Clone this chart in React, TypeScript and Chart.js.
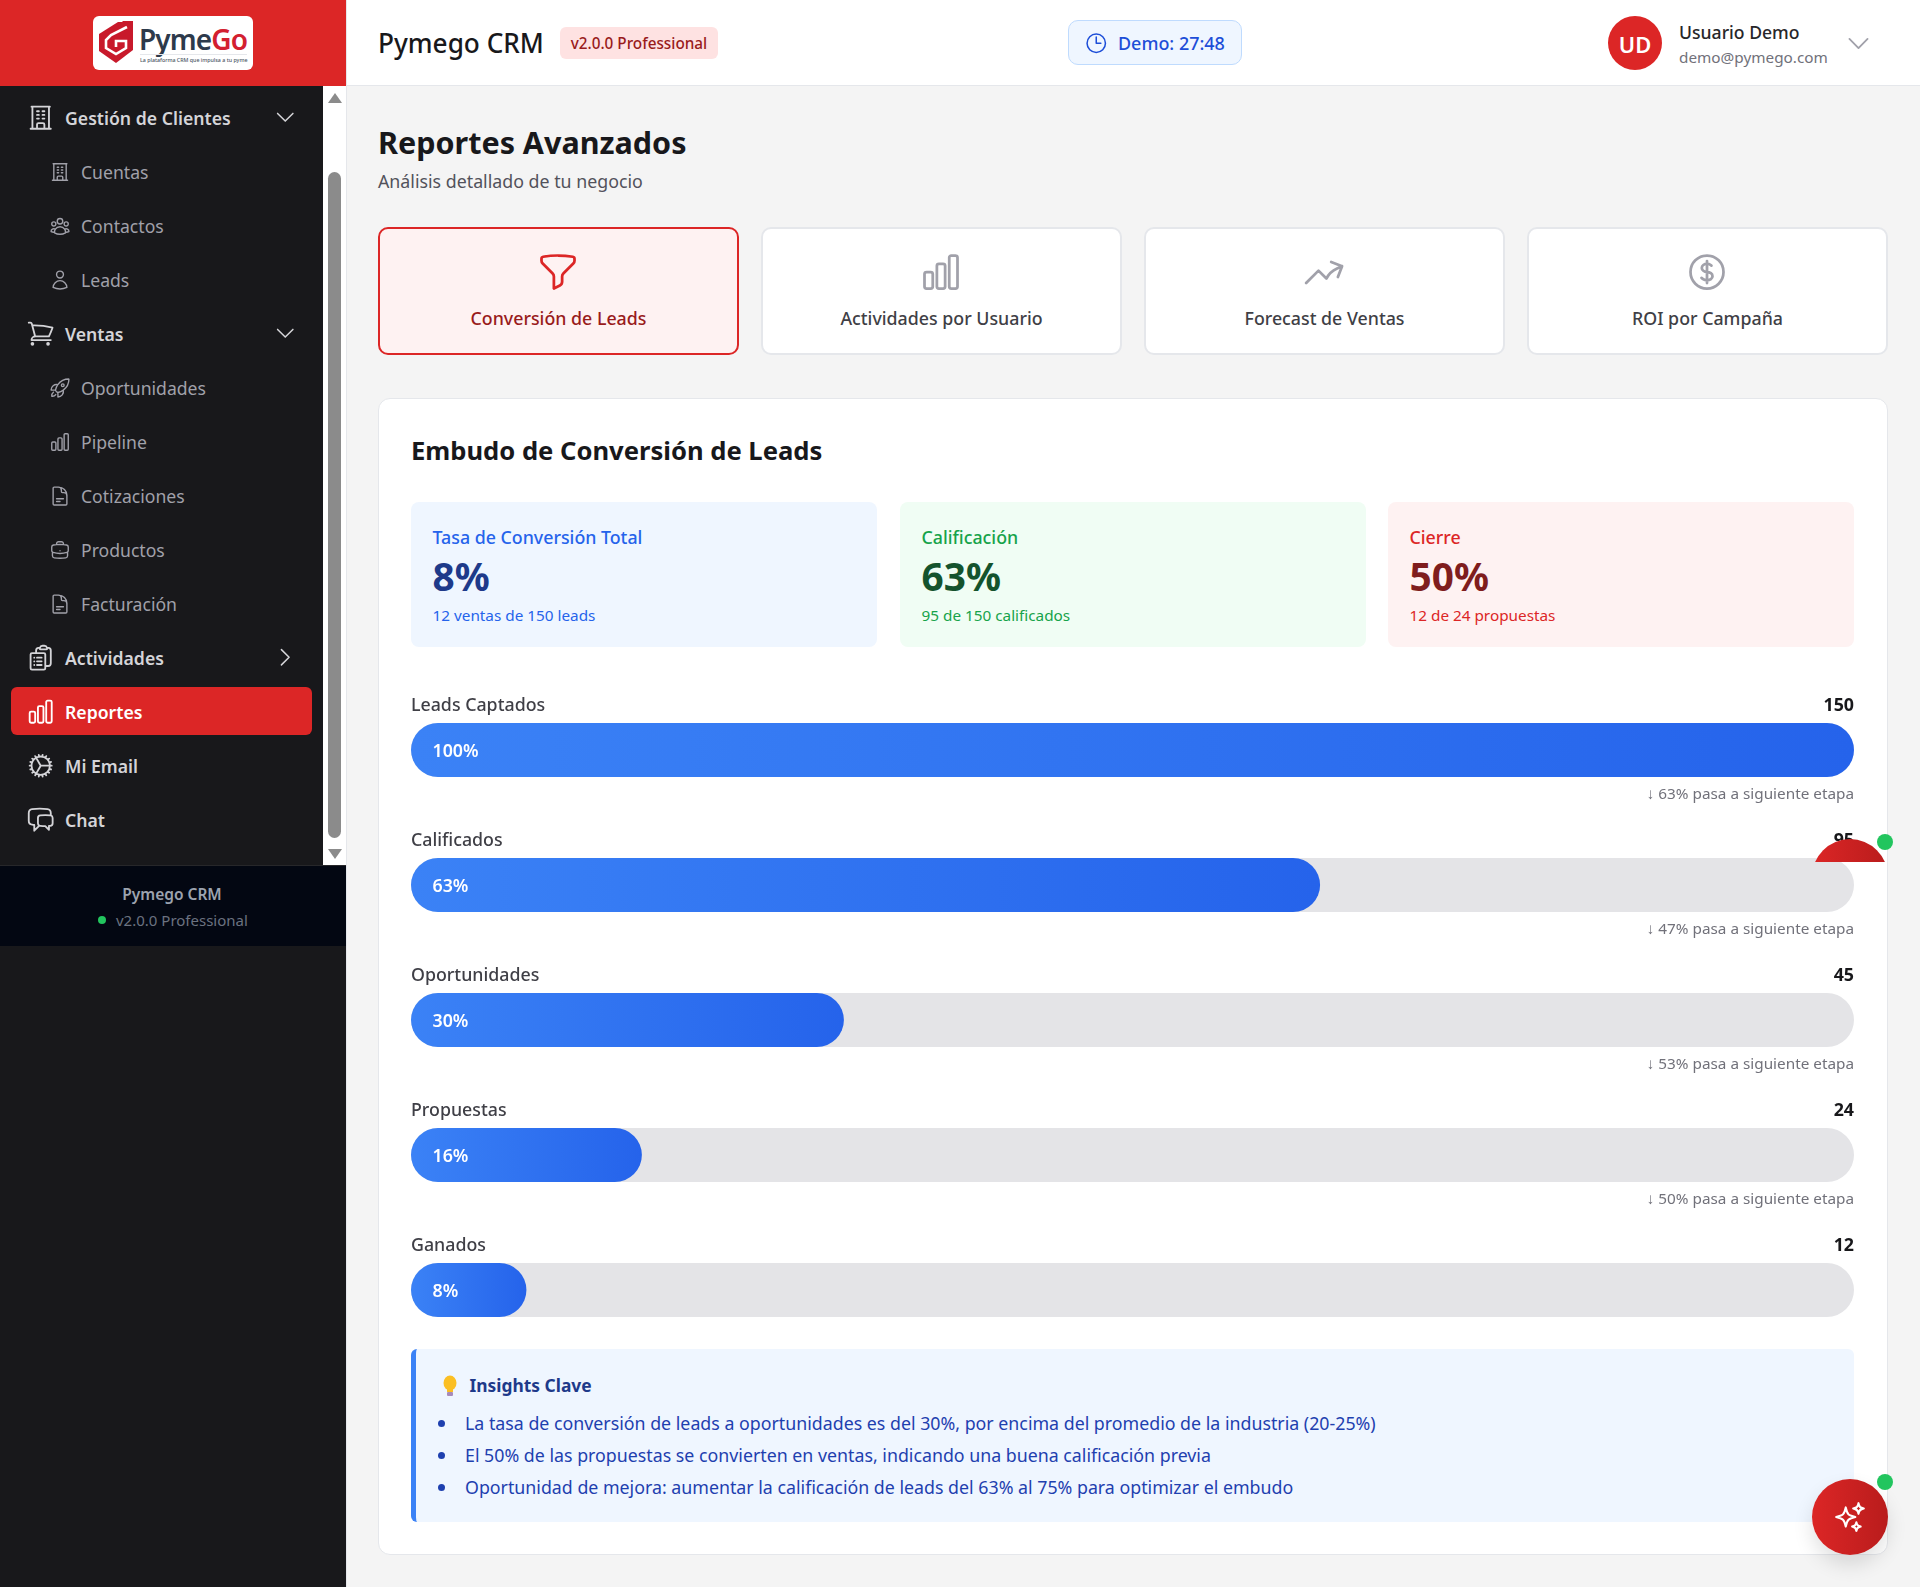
import React, { useEffect, useRef } from "react";
import { Chart, registerables } from "chart.js";

Chart.register(...registerables);

const stages = ["Leads Captados", "Calificados", "Oportunidades", "Propuestas", "Ganados"];
const counts = [150, 95, 45, 24, 12];
const percents = [100, 63, 30, 16, 8];
const trackValues = [100, 100, 100, 100, 100];
const passRates = [63, 47, 53, 50];

const statTitles = ["Tasa de Conversión Total", "Calificación", "Cierre"];
const statValues = ["8%", "63%", "50%"];
const statNotes = ["12 ventas de 150 leads", "95 de 150 calificados", "12 de 24 propuestas"];
const tabs = ["Conversión de Leads", "Actividades por Usuario", "Forecast de Ventas", "ROI por Campaña"];
const insights = [
  "La tasa de conversión de leads a oportunidades es del 30%, por encima del promedio de la industria (20-25%)",
  "El 50% de las propuestas se convierten en ventas, indicando una buena calificación previa",
  "Oportunidad de mejora: aumentar la calificación de leads del 63% al 75% para optimizar el embudo",
];

const P = {
  building: "M3.75 21h16.5M4.5 3h15M5.25 3v18m13.5-18v18M9 6.75h1.5m-1.5 3h1.5m-1.5 3h1.5m3-6H15m-1.5 3H15m-1.5 3H15M9 21v-3.375c0-.621.504-1.125 1.125-1.125h3.75c.621 0 1.125.504 1.125 1.125V21",
  group: "M18 18.72a9.094 9.094 0 003.741-.479 3 3 0 00-4.682-2.72m.94 3.198l.001.031c0 .225-.012.447-.037.666A11.944 11.944 0 0112 21c-2.17 0-4.207-.576-5.963-1.584A6.062 6.062 0 016 18.719m12 0a5.971 5.971 0 00-.941-3.197m0 0A5.995 5.995 0 0012 12.75a5.995 5.995 0 00-5.058 2.772m0 0a3 3 0 00-4.681 2.72 8.986 8.986 0 003.74.477m.94-3.197a5.971 5.971 0 00-.94 3.197M15 6.75a3 3 0 11-6 0 3 3 0 016 0zm6 3a2.25 2.25 0 11-4.5 0 2.25 2.25 0 014.5 0zm-13.5 0a2.25 2.25 0 11-4.5 0 2.25 2.25 0 014.5 0z",
  user: "M15.75 6a3.75 3.75 0 11-7.5 0 3.75 3.75 0 017.5 0zM4.501 20.118a7.5 7.5 0 0114.998 0A17.933 17.933 0 0112 21.75c-2.676 0-5.216-.584-7.499-1.632z",
  cart: "M2.25 3h1.386c.51 0 .955.343 1.087.835l.383 1.437M7.5 14.25a3 3 0 00-3 3h15.75m-12.75-3h11.218c1.121-2.3 2.1-4.684 2.924-7.138a60.114 60.114 0 00-16.536-1.84M7.5 14.25L5.106 5.272M6 20.25a.75.75 0 11-1.5 0 .75.75 0 011.5 0zm12.75 0a.75.75 0 11-1.5 0 .75.75 0 011.5 0z",
  rocket: "M15.59 14.37a6 6 0 01-5.84 7.38v-4.8m5.84-2.58a14.98 14.98 0 006.16-12.12A14.98 14.98 0 009.631 8.41m5.96 5.96a14.926 14.926 0 01-5.841 2.58m-.119-8.54a6 6 0 00-7.381 5.84h4.8m2.581-5.84a14.927 14.927 0 00-2.58 5.84m2.699 2.7c-.103.021-.207.041-.311.06a15.09 15.09 0 01-2.448-2.448 14.9 14.9 0 01.06-.312m-2.24 2.39a4.493 4.493 0 00-1.757 4.306 4.493 4.493 0 004.306-1.758M16.5 9a1.5 1.5 0 11-3 0 1.5 1.5 0 013 0z",
  bars: "M3 13.125C3 12.504 3.504 12 4.125 12h2.25c.621 0 1.125.504 1.125 1.125v6.75C7.5 20.496 6.996 21 6.375 21h-2.25A1.125 1.125 0 013 19.875v-6.75zM9.75 8.625c0-.621.504-1.125 1.125-1.125h2.25c.621 0 1.125.504 1.125 1.125v11.25c0 .621-.504 1.125-1.125 1.125h-2.25a1.125 1.125 0 01-1.125-1.125V8.625zM16.5 4.125c0-.621.504-1.125 1.125-1.125h2.25C20.496 3 21 3.504 21 4.125v15.75c0 .621-.504 1.125-1.125 1.125h-2.25a1.125 1.125 0 01-1.125-1.125V4.125z",
  doc: "M19.5 14.25v-2.625a3.375 3.375 0 00-3.375-3.375h-1.5A1.125 1.125 0 0113.5 7.125v-1.5a3.375 3.375 0 00-3.375-3.375H8.25m0 12.75h7.5m-7.5 3H12M10.5 2.25H5.625c-.621 0-1.125.504-1.125 1.125v17.25c0 .621.504 1.125 1.125 1.125h12.75c.621 0 1.125-.504 1.125-1.125V11.25a9 9 0 00-9-9z",
  case: "M20.25 14.15v4.25c0 1.094-.787 2.036-1.872 2.18-2.087.277-4.216.42-6.378.42s-4.291-.143-6.378-.42c-1.085-.144-1.872-1.086-1.872-2.18v-4.25m16.5 0a2.18 2.18 0 00.75-1.661V8.706c0-1.081-.768-2.015-1.837-2.175a48.114 48.114 0 00-3.413-.387m4.5 8.006c-.194.165-.42.295-.673.38A23.978 23.978 0 0112 15.75c-2.648 0-5.195-.429-7.577-1.22a2.016 2.016 0 01-.673-.38m0 0A2.18 2.18 0 013 12.489V8.706c0-1.081.768-2.015 1.837-2.175a48.111 48.111 0 013.413-.387m7.5 0V5.25A2.25 2.25 0 0013.5 3h-3a2.25 2.25 0 00-2.25 2.25v.894m7.5 0a48.667 48.667 0 00-7.5 0M12 12.75h.008v.008H12v-.008z",
  clip: "M9 12h3.75M9 15h3.75M9 18h3.75m3 .75H18a2.25 2.25 0 002.25-2.25V6.108c0-1.135-.845-2.098-1.976-2.192a48.424 48.424 0 00-1.123-.08m-5.801 0c-.065.21-.1.433-.1.664 0 .414.336.75.75.75h4.5a.75.75 0 00.75-.75 2.25 2.25 0 00-.1-.664m-5.8 0A2.251 2.251 0 0113.5 2.25H15c1.012 0 1.867.668 2.15 1.586m-5.8 0c-.376.023-.75.05-1.124.08C9.095 4.01 8.25 4.973 8.25 6.108V8.25m0 0H4.875c-.621 0-1.125.504-1.125 1.125v11.25c0 .621.504 1.125 1.125 1.125h9.75c.621 0 1.125-.504 1.125-1.125V9.375c0-.621-.504-1.125-1.125-1.125H8.25zM6.75 12h.008v.008H6.75V12zm0 3h.008v.008H6.75V15zm0 3h.008v.008H6.75V18z",
  cog: "M4.5 12a7.5 7.5 0 0015 0m-15 0a7.5 7.5 0 1115 0m-15 0H3m16.5 0H21m-1.5 0H12m-8.457 3.077l1.41-.513m14.095-5.13l1.41-.513M5.106 17.785l1.15-.964m11.49-9.642l1.149-.964M7.501 19.795l.75-1.3m7.5-12.99l.75-1.3m-6.063 16.658l.26-1.477m2.605-14.772l.26-1.477m0 17.726l-.26-1.477M10.698 4.614l-.26-1.477M16.5 19.794l-.75-1.299M7.5 4.205L12 12m6.894 5.785l-1.149-.964M6.256 7.178l-1.15-.964m15.352 8.864l-1.41-.513M4.954 9.435l-1.41-.514M12.002 12l-3.75 6.495",
  chat: "M20.25 8.511c.884.284 1.5 1.128 1.5 2.097v4.286c0 1.136-.847 2.1-1.98 2.193-.34.027-.68.052-1.02.072v3.091l-3-3c-1.354 0-2.694-.055-4.02-.163a2.115 2.115 0 01-.825-.242m9.345-8.334a2.126 2.126 0 00-.476-.095 48.64 48.64 0 00-8.048 0c-1.131.094-1.976 1.057-1.976 2.192v4.286c0 .837.46 1.58 1.155 1.951m9.345-8.334V6.637c0-1.621-1.152-3.026-2.76-3.235A48.455 48.455 0 0011.25 3c-2.115 0-4.198.137-6.24.402-1.608.209-2.76 1.614-2.76 3.235v6.226c0 1.621 1.152 3.026 2.76 3.235.577.075 1.157.14 1.74.194V21l4.155-4.155",
  down: "M19.5 8.25l-7.5 7.5-7.5-7.5",
  right: "M8.25 4.5l7.5 7.5-7.5 7.5",
  funnel: "M12 3c2.755 0 5.455.232 8.083.678.533.09.917.556.917 1.096v1.044a2.25 2.25 0 01-.659 1.591l-5.432 5.432a2.25 2.25 0 00-.659 1.591v2.927a2.25 2.25 0 01-1.244 2.013L9.75 21v-6.568a2.25 2.25 0 00-.659-1.591L3.659 7.409A2.25 2.25 0 013 5.818V4.774c0-.54.384-1.006.917-1.096A48.32 48.32 0 0112 3z",
  trend: "M2.25 18L9 11.25l4.306 4.307a11.95 11.95 0 015.814-5.519l2.74-1.22m0 0l-5.94-2.28m5.94 2.28l-2.28 5.941",
  dollar: "M12 6v12m-3-2.818l.879.659c1.171.879 3.07.879 4.242 0 1.172-.879 1.172-2.303 0-3.182C13.536 12.219 12.768 12 12 12c-.725 0-1.45-.22-2.003-.659-1.106-.879-1.106-2.303 0-3.182s2.9-.879 4.006 0l.415.33M21 12a9 9 0 11-18 0 9 9 0 0118 0z",
  clock: "M12 6v6h4.5m4.5 0a9 9 0 11-18 0 9 9 0 0118 0z",
  spark: "M9.813 15.904L9 18.75l-.813-2.846a4.5 4.5 0 00-3.09-3.09L2.25 12l2.846-.813a4.5 4.5 0 003.09-3.09L9 5.25l.813 2.846a4.5 4.5 0 003.09 3.09L15.75 12l-2.846.813a4.5 4.5 0 00-3.09 3.09zM18.259 8.715L18 9.75l-.259-1.035a3.375 3.375 0 00-2.455-2.456L14.25 6l1.036-.259a3.375 3.375 0 002.455-2.456L18 2.25l.259 1.035a3.375 3.375 0 002.456 2.456L21.75 6l-1.035.259a3.375 3.375 0 00-2.456 2.456zM16.894 20.567L16.5 21.75l-.394-1.183a2.25 2.25 0 00-1.423-1.423L13.5 18.75l1.183-.394a2.25 2.25 0 001.423-1.423l.394-1.183.394 1.183a2.25 2.25 0 001.423 1.423l1.183.394-1.183.394a2.25 2.25 0 00-1.423 1.423z",
};

const FONT = '"Noto Sans", sans-serif';
const BODY = 17.8;
const SMALL = 15.3;

function Box({ x, y, w, h, style, children }: any) {
  return <div style={{ position: "absolute", left: x, top: y, width: w, height: h, boxSizing: "border-box", ...style }}>{children}</div>;
}

function T({ x, y, s, w = 400, c, a = "l", children }: any) {
  const tx = a === "c" ? "-50%" : a === "r" ? "-100%" : "0";
  return (
    <div style={{ position: "absolute", left: x, top: y + 0.7, transform: `translate(${tx},-50%)`, fontFamily: FONT, fontSize: s, fontWeight: w, color: c, lineHeight: 1.2, whiteSpace: "nowrap" }}>
      {children}
    </div>
  );
}

function Icon({ d, cx, cy, size, color, sw = 1.5 }: any) {
  return (
    <svg viewBox="0 0 24 24" width={size} height={size} fill="none" stroke={color} strokeWidth={sw} strokeLinecap="round" strokeLinejoin="round"
      style={{ position: "absolute", left: cx - size / 2, top: cy - size / 2 }}>
      <path d={d} />
    </svg>
  );
}

const navItems: any[] = [
  { t: "Gestión de Clientes", i: P.building, top: true, chev: P.down },
  { t: "Cuentas", i: P.building },
  { t: "Contactos", i: P.group },
  { t: "Leads", i: P.user },
  { t: "Ventas", i: P.cart, top: true, chev: P.down },
  { t: "Oportunidades", i: P.rocket },
  { t: "Pipeline", i: P.bars },
  { t: "Cotizaciones", i: P.doc },
  { t: "Productos", i: P.case },
  { t: "Facturación", i: P.doc },
  { t: "Actividades", i: P.clip, top: true, chev: P.right },
  { t: "Reportes", i: P.bars, top: true, active: true },
  { t: "Mi Email", i: P.cog, top: true },
  { t: "Chat", i: P.chat, top: true },
];

function Funnel() {
  const ref = useRef<HTMLCanvasElement | null>(null);
  useEffect(() => {
    if (!ref.current) return;
    const chart = new Chart(ref.current, {
      type: "bar",
      data: {
        labels: stages,
        datasets: [
          {
            label: "Conversión",
            data: percents,
            grouped: false,
            backgroundColor: (ctx: any) => {
              const sx = ctx.chart.scales.x;
              if (!sx || ctx.raw == null) return "#3b82f6";
              const x0 = sx.getPixelForValue(0);
              const x1 = sx.getPixelForValue(ctx.raw);
              if (!Number.isFinite(x0) || !Number.isFinite(x1)) return "#3b82f6";
              const g = ctx.chart.ctx.createLinearGradient(x0, 0, x1, 0);
              g.addColorStop(0, "#3b82f6");
              g.addColorStop(1, "#2563eb");
              return g;
            },
          },
          { label: "Total", data: trackValues, grouped: false, backgroundColor: "#e4e4e7" },
        ] as any,
      },
      options: {
        indexAxis: "y",
        responsive: false,
        maintainAspectRatio: false,
        animation: false,
        layout: { padding: { top: 0.5, bottom: 0.5, left: 0, right: 0 } },
        datasets: { bar: { barThickness: 54, borderRadius: 27, borderSkipped: false, inflateAmount: 0 } } as any,
        scales: {
          x: { display: false, min: 0, max: 100 },
          y: { display: false },
        },
        plugins: { legend: { display: false }, tooltip: { enabled: false } },
      },
    });
    return () => chart.destroy();
  }, []);
  return <canvas ref={ref} width={1443} height={676} style={{ position: "absolute", left: 411, top: 682, width: 1443, height: 676, display: "block" }} />;
}

export default function App() {
  const statX = [411, 900, 1388];
  const statBg = ["#eff6ff", "#f0fdf4", "#fef2f2"];
  const statC1 = ["#2563eb", "#16a34a", "#dc2626"];
  const statC2 = ["#1e3a8a", "#14532d", "#7f1d1d"];
  const tabX = [378, 761, 1144, 1527];
  const tabIcons = [P.funnel, P.bars, P.trend, P.dollar];
  return (
    <div style={{ position: "absolute", left: 0, top: 0, width: 1920, height: 1587, overflow: "hidden", background: "#f4f4f4", fontFamily: FONT }}>
      {/* sidebar */}
      <Box x={0} y={0} w={346} h={1587} style={{ background: "#18181b" }} />
      <Box x={346} y={0} w={1} h={1587} style={{ background: "#e5e7eb" }} />
      <Box x={0} y={0} w={346} h={86} style={{ background: "#dc2626" }} />
      <Box x={93} y={16} w={160} h={54} style={{ background: "#fff", borderRadius: 6 }} />
      <svg width={40} height={46} viewBox="0 0 40 46" style={{ position: "absolute", left: 97, top: 20 }}>
        <polygon points="2,14 21,2 36,2 36,30 19,43 2,31" fill="#c8192b" />
        <path d="M30 7 L14 15 L9 20 L9 28 L19 34 L29 28 L29 21 L19 21 L19 27" fill="none" stroke="#fff" strokeWidth="2.6" />
        <polygon points="25,1 36,1 36,12" fill="#c8192b" />
      </svg>
      <T x={139} y={39} s={28} w={600} c="#2d3a4b"><span style={{ letterSpacing: -0.9 }}>Pyme<span style={{ color: "#d32030" }}>Go</span></span></T>
      <Box x={140} y={54} w={107} h={1} style={{ background: "#e5e7eb" }} />
      <T x={140} y={59.6} s={5.3} w={500} c="#4b5563">La plataforma CRM que impulsa a tu pyme</T>

      <Box x={323} y={86} w={23} h={779} style={{ background: "#fff" }} />
      <Box x={328} y={172} w={13} h={666} style={{ background: "#8b8b8b", borderRadius: 7 }} />
      <svg width={16} height={12} style={{ position: "absolute", left: 327, top: 92 }}><polygon points="8,1 15,11 1,11" fill="#8b8b8b" /></svg>
      <svg width={16} height={12} style={{ position: "absolute", left: 327, top: 848 }}><polygon points="1,1 15,1 8,11" fill="#8b8b8b" /></svg>
      <Box x={11} y={687} w={301} h={48} style={{ background: "#dc2626", borderRadius: 6 }} />
      {navItems.map((n, i) => {
        const y = 118 + i * 54;
        return (
          <React.Fragment key={n.t + i}>
            {n.top ? (
              <Icon d={n.i} cx={40.5} cy={y} size={29.4} color={n.active ? "#fff" : "#d4d4d8"} />
            ) : (
              <Icon d={n.i} cx={60} cy={y} size={22} color="#a1a1aa" />
            )}
            <T x={n.top ? 65 : 81} y={y} s={n.top ? 17.65 : 17.6} w={n.top ? 600 : 400} c={n.active ? "#fff" : n.top ? "#d4d4d8" : "#a1a1aa"}>{n.t}</T>
            {n.chev && <Icon d={n.chev} cx={285} cy={y - 1} size={24.5} color="#d4d4d8" />}
          </React.Fragment>
        );
      })}
      <Box x={0} y={865} w={346} h={81} style={{ background: "#030712", borderTop: "1px solid #27272a" }} />
      <T x={172} y={893} s={15.5} w={600} c="#9ca3af" a="c">Pymego CRM</T>
      <Box x={98} y={916} w={8} h={8} style={{ background: "#22c55e", borderRadius: "50%" }} />
      <T x={116} y={919} s={15} c="#6b7280">v2.0.0 Professional</T>

      {/* header */}
      <Box x={347} y={0} w={1573} h={86} style={{ background: "#fff", borderBottom: "1px solid #e5e7eb" }} />
      <T x={378} y={43.5} s={26.2} w={500} c="#18181b">Pymego CRM</T>
      <Box x={560} y={27} w={158} h={32} style={{ background: "#fee2e2", borderRadius: 6 }} />
      <T x={639} y={42.5} s={SMALL} w={500} c="#991b1b" a="c">v2.0.0 Professional</T>
      <Box x={1068} y={20} w={174} h={45} style={{ background: "#eff6ff", border: "1px solid #bfdbfe", borderRadius: 10 }} />
      <Icon d={P.clock} cx={1096} cy={43} size={24.5} color="#1d4ed8" />
      <T x={1118} y={43} s={17.95} w={500} c="#1d4ed8">Demo: 27:48</T>
      <Box x={1608} y={16} w={54} h={54} style={{ background: "#dc2626", borderRadius: "50%" }} />
      <T x={1635} y={43} s={22} w={600} c="#fff" a="c">UD</T>
      <T x={1679} y={32.5} s={17.6} w={500} c="#27272a">Usuario Demo</T>
      <T x={1679} y={56} s={SMALL} c="#71717a">demo@pymego.com</T>
      <Icon d={P.down} cx={1858} cy={43} size={29} color="#a1a1aa" />

      {/* title */}
      <T x={378} y={141.5} s={30.5} w={700} c="#18181b">Reportes Avanzados</T>
      <T x={378} y={181} s={BODY} c="#52525b">Análisis detallado de tu negocio</T>

      {/* tabs */}
      {tabs.map((t, i) => (
        <React.Fragment key={t}>
          <Box x={tabX[i]} y={227} w={361} h={128} style={{ background: i === 0 ? "#fef2f2" : "#fff", border: `2px solid ${i === 0 ? "#dc2626" : "#e5e7eb"}`, borderRadius: 10 }} />
          <Icon d={tabIcons[i]} cx={tabX[i] + 180} cy={271.5} size={44} color={i === 0 ? "#dc2626" : "#a1a1aa"} />
          <T x={tabX[i] + 180.5} y={318} s={BODY} w={500} c={i === 0 ? "#991b1b" : "#3f3f46"} a="c">{t}</T>
        </React.Fragment>
      ))}

      {/* panel */}
      <Box x={378} y={398} w={1510} h={1157} style={{ background: "#fff", border: "1px solid #e5e7eb", borderRadius: 12 }} />
      <T x={411} y={450} s={25.6} w={700} c="#18181b">Embudo de Conversión de Leads</T>

      {statTitles.map((t, i) => (
        <React.Fragment key={t}>
          <Box x={statX[i]} y={502} w={466} h={145} style={{ background: statBg[i], borderRadius: 8 }} />
          <T x={statX[i] + 21.5} y={537} s={BODY} w={500} c={statC1[i]}>{t}</T>
          <T x={statX[i] + 21.5} y={575} s={38.8} w={700} c={statC2[i]}>{statValues[i]}</T>
          <T x={statX[i] + 21.5} y={614} s={SMALL} c={statC1[i]}>{statNotes[i]}</T>
        </React.Fragment>
      ))}

      <Funnel />
      {stages.map((s, i) => {
        const dy = i * 135;
        return (
          <React.Fragment key={s}>
            <T x={411} y={704.6 + dy} s={BODY} w={500} c="#3f3f46">{s}</T>
            <T x={1854} y={704.6 + dy} s={BODY} w={700} c="#18181b" a="r">{counts[i]}</T>
            <T x={432.5} y={750 + dy} s={BODY} w={600} c="#fff">{percents[i]}%</T>
            {i < passRates.length && (
              <T x={1854} y={792 + dy} s={SMALL} c="#71717a" a="r">↓ {passRates[i]}% pasa a siguiente etapa</T>
            )}
          </React.Fragment>
        );
      })}

      {/* insights */}
      <Box x={411} y={1349} w={1443} h={173} style={{ background: "#eff6ff", borderLeft: "5px solid #3b82f6", borderRadius: 6 }} />
      <svg width={18} height={22} viewBox="0 0 18 22" style={{ position: "absolute", left: 441, top: 1375 }}>
        <ellipse cx="9" cy="8" rx="6.5" ry="7.5" fill="#fbbf24" />
        <rect x="6" y="14" width="6" height="3" fill="#fbbf24" />
        <rect x="6" y="17" width="6" height="4" rx="1" fill="#a78bba" />
      </svg>
      <T x={469.5} y={1384} s={17.4} w={700} c="#1e3a8a">Insights Clave</T>
      {insights.map((t, i) => (
        <React.Fragment key={i}>
          <Box x={438} y={1419.5 + i * 32} w={7} h={7} style={{ background: "#1e40af", borderRadius: "50%" }} />
          <T x={465} y={1423 + i * 32} s={BODY} c="#1e40af">{t}</T>
        </React.Fragment>
      ))}

      {/* floating buttons */}
      <Box x={1780} y={820} w={120} h={42} style={{ overflow: "hidden" }}>
        <Box x={32} y={19} w={76} h={76} style={{ borderRadius: "50%", background: "linear-gradient(90deg,#dc2626,#b91c1c)" }} />
      </Box>
      <Box x={1877} y={834} w={16} h={16} style={{ background: "#22c55e", borderRadius: "50%" }} />
      <Box x={1812} y={1479} w={76} h={76} style={{ borderRadius: "50%", background: "linear-gradient(90deg,#dc2626,#b91c1c)", boxShadow: "0 10px 20px rgba(0,0,0,0.12)" }} />
      <Icon d={P.spark} cx={1850} cy={1517} size={34} color="#fff" />
      <Box x={1877} y={1474} w={16} h={16} style={{ background: "#22c55e", borderRadius: "50%" }} />
    </div>
  );
}
